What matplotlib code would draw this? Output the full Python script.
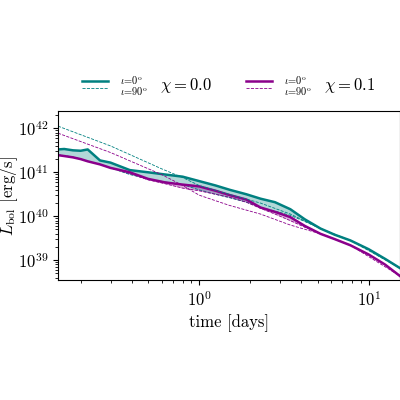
import numpy as np
import matplotlib.pyplot as plt
from matplotlib.lines import Line2D

plt.rcParams['mathtext.fontset'] = 'cm'
plt.rcParams['font.family'] = 'serif'
plt.rcParams['font.serif'] = ['cmr10', 'DejaVu Serif']
plt.rcParams['axes.formatter.use_mathtext'] = True

teal = '#008080'
purple = '#8B008B'

# time [days] and log10 L for each curve
t_solid = [0.147, 0.16, 0.18, 0.2, 0.22, 0.26, 0.3, 0.39, 0.5, 0.63, 0.8, 1.0, 1.25, 1.52, 1.9, 2.3, 2.8, 3.45, 4.2, 5.2, 6.3, 7.8, 10.0, 12.5, 15.3]
chi0_i0 = [41.52, 41.53, 41.50, 41.49, 41.52, 41.27, 41.22, 41.05, 41.0, 40.95, 40.9, 40.8, 40.7, 40.6, 40.5, 40.4, 40.32, 40.16, 39.93, 39.72, 39.58, 39.45, 39.25, 39.03, 38.82]
chi0_low = [41.40, 41.38, 41.35, 41.30, 41.25, 41.18, 41.1, 40.95, 40.85, 40.78, 40.72, 40.6, 40.5, 40.42, 40.32, 40.2, 40.12, 40.02, 39.88, 39.72, 39.58, 39.45, 39.25, 39.03, 38.82]
chi01_i0 = [41.39, 41.37, 41.34, 41.3, 41.25, 41.18, 41.1, 41.0, 40.85, 40.77, 40.72, 40.68, 40.58, 40.48, 40.38, 40.2, 40.1, 39.98, 39.78, 39.6, 39.48, 39.34, 39.13, 38.9, 38.64]
chi01_low = [41.39, 41.37, 41.34, 41.3, 41.25, 41.18, 41.1, 40.97, 40.83, 40.74, 40.64, 40.58, 40.5, 40.43, 40.32, 40.18, 40.05, 39.9, 39.75, 39.6, 39.48, 39.34, 39.13, 38.9, 38.64]

t_dash = [0.147, 0.3, 0.6, 0.8, 1.0, 1.5, 2.3, 3.45, 5.2, 7.8, 15.3]
chi0_i90 = [42.05, 41.6, 41.08, 40.88, 40.7, 40.5, 40.3, 40.05, 39.72, 39.45, 38.82]
chi01_i90 = [41.89, 41.45, 40.95, 40.7, 40.48, 40.25, 40.05, 39.8, 39.6, 39.34, 38.64]

fig = plt.figure(figsize=(4, 4), dpi=100)
ax = fig.add_axes([0.145, 0.30, 0.855, 0.422])

ts = np.array(t_solid)
ax.fill_between(ts, 10**np.array(chi0_low), 10**np.array(chi0_i0), color=teal, alpha=0.3, lw=0)
ax.fill_between(ts, 10**np.array(chi01_low), 10**np.array(chi01_i0), color=purple, alpha=0.3, lw=0)
ax.plot(ts, 10**np.array(chi0_low), color=teal, lw=0.6, ls='--')
ax.plot(ts, 10**np.array(chi01_low), color=purple, lw=0.6, ls='--')
ax.plot(ts, 10**np.array(chi0_i0), color=teal, lw=1.8)
ax.plot(ts, 10**np.array(chi01_i0), color=purple, lw=1.8)
ax.plot(t_dash, 10**np.array(chi0_i90), color=teal, lw=0.6, ls='--')
ax.plot(t_dash, 10**np.array(chi01_i90), color=purple, lw=0.6, ls='--')

ax.set_xscale('log')
ax.set_yscale('log')
ax.set_xlim(0.147, 15.3)
ax.set_ylim(10**38.55, 10**42.39)
ax.tick_params(labelsize=12)
ax.set_xlabel('time [days]', fontsize=12)
ax.set_ylabel(r'$L_{\rm bol}$ [erg/s]', fontsize=12)
ax.yaxis.set_label_coords(-0.112, 0.5)

# legend drawn by hand
for x0, col, chi in [(0.205, teal, '0.0'), (0.615, purple, '0.1')]:
    fig.add_artist(Line2D([x0, x0 + 0.065], [0.797, 0.797], color=col, lw=1.8))
    fig.add_artist(Line2D([x0, x0 + 0.065], [0.78, 0.78], color=col, lw=0.6, ls='--'))
    fig.text(x0 + 0.095, 0.800, r'$\iota$=0$^{\rm o}$', fontsize=7.5, va='center')
    fig.text(x0 + 0.095, 0.772, r'$\iota$=90$^{\rm o}$', fontsize=7.5, va='center')
    fig.text(x0 + 0.195, 0.786, r'$\chi = %s$' % chi, fontsize=12, va='center')

fig.savefig('out.png', dpi=100)
